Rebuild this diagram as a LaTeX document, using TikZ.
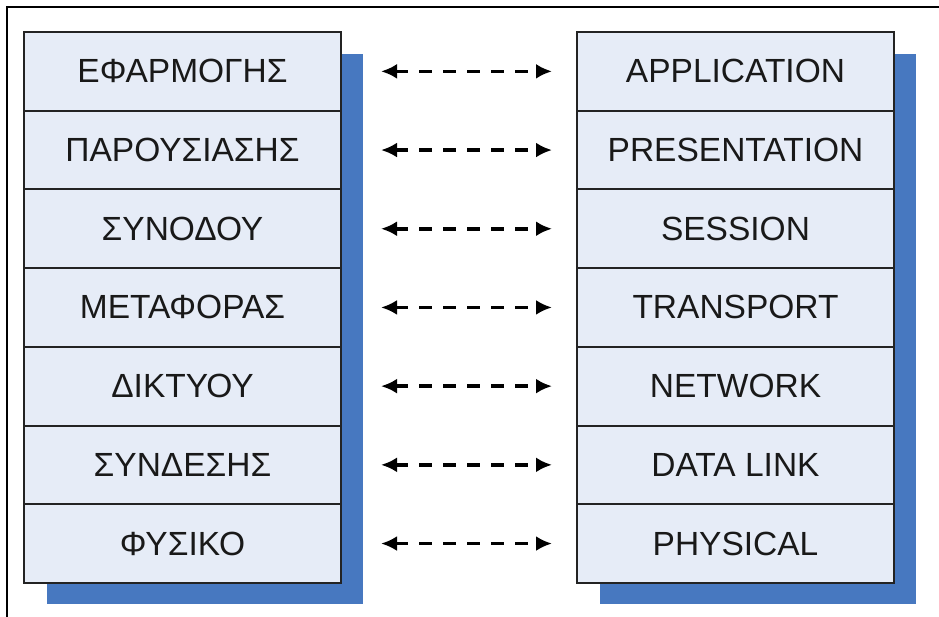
\documentclass[tikz,border=0pt]{standalone}
\usepackage{fontspec}
\setmainfont{Liberation Sans}
\usetikzlibrary{arrows.meta}
\definecolor{cellfill}{RGB}{230,236,247}
\definecolor{shadowblue}{RGB}{71,120,192}
\definecolor{edgegray}{RGB}{35,35,35}
\definecolor{textgray}{RGB}{25,25,25}
\begin{document}
\begin{tikzpicture}[x=1pt,y=-1pt,
  cell/.style={draw=edgegray, line width=2pt, fill=cellfill,
    minimum width=317pt, minimum height=78.7pt, inner sep=0pt,
    font=\fontsize{33.5}{38}\selectfont, text=textgray, anchor=north west},
  shadowbox/.style={fill=shadowblue, draw=none},
  link/.style={line width=3.6pt, dash pattern=on 13pt off 11pt,
    {Latex[length=16pt,width=15pt]}-{Latex[length=16pt,width=15pt]},
    shorten <=39pt, shorten >=24pt}]
\useasboundingbox (0,0) rectangle (939,617);
% frame lines
\draw[line width=2pt] (7,617) -- (7,7) -- (939,7);
% drop shadows
\fill[shadowbox] (47,54) rectangle (363,604);
\fill[shadowbox] (600,54) rectangle (916,604);
% left stack
\node[cell] (l1) at (23,31) {ΕΦΑΡΜΟΓΗΣ};
\node[cell] (l2) at (23,109.7) {ΠΑΡΟΥΣΙΑΣΗΣ};
\node[cell] (l3) at (23,188.4) {ΣΥΝΟΔΟΥ};
\node[cell] (l4) at (23,267.1) {ΜΕΤΑΦΟΡΑΣ};
\node[cell] (l5) at (23,345.8) {ΔΙΚΤΥΟΥ};
\node[cell] (l6) at (23,424.5) {ΣΥΝΔΕΣΗΣ};
\node[cell] (l7) at (23,503.2) {ΦΥΣΙΚΟ};
% right stack
\node[cell] (r1) at (576,31) {APPLICATION};
\node[cell] (r2) at (576,109.7) {PRESENTATION};
\node[cell] (r3) at (576,188.4) {SESSION};
\node[cell] (r4) at (576,267.1) {TRANSPORT};
\node[cell] (r5) at (576,345.8) {NETWORK};
\node[cell] (r6) at (576,424.5) {DATA LINK};
\node[cell] (r7) at (576,503.2) {PHYSICAL};
% peer links
\foreach \i in {1,...,7} \draw[link] (l\i.east) -- (r\i.west);
\end{tikzpicture}
\end{document}
